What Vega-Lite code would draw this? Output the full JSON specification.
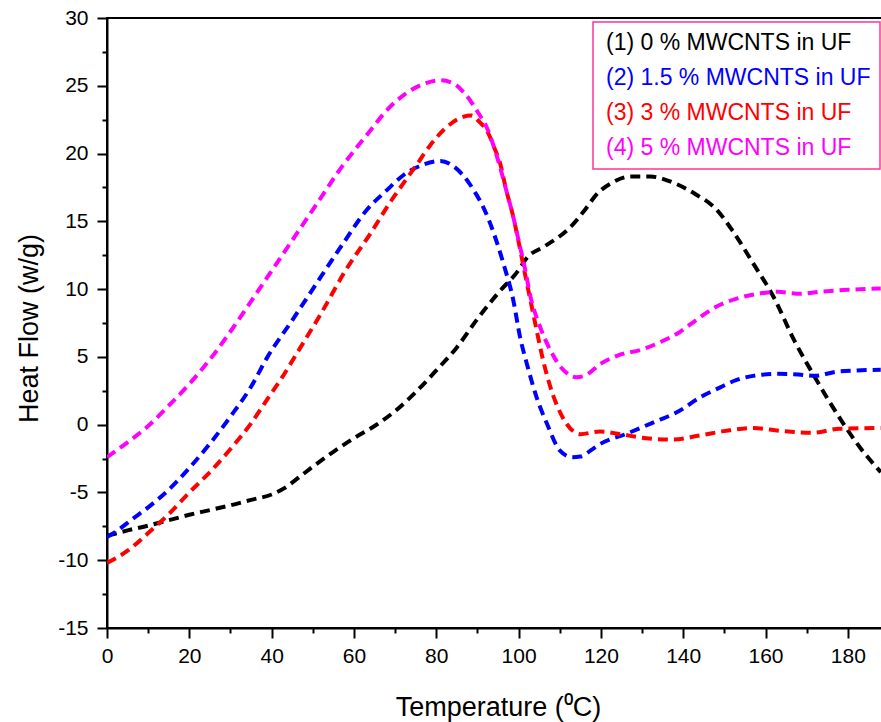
{
  "$schema": "https://vega.github.io/schema/vega-lite/v6.json",
  "autosize": {"type": "none"},
  "padding": {"left": 107, "top": 18, "right": 0, "bottom": 94},
  "width": 782,
  "height": 610,
  "config": {
    "view": {"stroke": "black", "strokeWidth": 2},
    "font": "Liberation Sans",
    "legend": {"strokeWidth": 1.5},
    "axis": {"grid": false, "domainColor": "black", "domainWidth": 2, "tickColor": "black", "tickWidth": 2, "labelColor": "black", "titleColor": "black", "labelFontSize": 21, "titleFontSize": 27, "titleFontWeight": "normal", "labelFont": "Liberation Sans", "titleFont": "Liberation Sans"}
  },
  "data": {"values": [
    {"s": "(1) 0 % MWCNTS in UF", "t": 0, "h": -8.2},
    {"s": "(1) 0 % MWCNTS in UF", "t": 5, "h": -7.8},
    {"s": "(1) 0 % MWCNTS in UF", "t": 10, "h": -7.45},
    {"s": "(1) 0 % MWCNTS in UF", "t": 15, "h": -7.05},
    {"s": "(1) 0 % MWCNTS in UF", "t": 20, "h": -6.65},
    {"s": "(1) 0 % MWCNTS in UF", "t": 25, "h": -6.3},
    {"s": "(1) 0 % MWCNTS in UF", "t": 30, "h": -5.95},
    {"s": "(1) 0 % MWCNTS in UF", "t": 35, "h": -5.55},
    {"s": "(1) 0 % MWCNTS in UF", "t": 40, "h": -5.15},
    {"s": "(1) 0 % MWCNTS in UF", "t": 43, "h": -4.7},
    {"s": "(1) 0 % MWCNTS in UF", "t": 47, "h": -3.8},
    {"s": "(1) 0 % MWCNTS in UF", "t": 50, "h": -3.1},
    {"s": "(1) 0 % MWCNTS in UF", "t": 55, "h": -2.0},
    {"s": "(1) 0 % MWCNTS in UF", "t": 60, "h": -1.0},
    {"s": "(1) 0 % MWCNTS in UF", "t": 65, "h": -0.1},
    {"s": "(1) 0 % MWCNTS in UF", "t": 70, "h": 1.0},
    {"s": "(1) 0 % MWCNTS in UF", "t": 75, "h": 2.4},
    {"s": "(1) 0 % MWCNTS in UF", "t": 80, "h": 4.0},
    {"s": "(1) 0 % MWCNTS in UF", "t": 85, "h": 5.7},
    {"s": "(1) 0 % MWCNTS in UF", "t": 90, "h": 7.8},
    {"s": "(1) 0 % MWCNTS in UF", "t": 95, "h": 9.7},
    {"s": "(1) 0 % MWCNTS in UF", "t": 100, "h": 11.4},
    {"s": "(1) 0 % MWCNTS in UF", "t": 102, "h": 12.3},
    {"s": "(1) 0 % MWCNTS in UF", "t": 106, "h": 13.1},
    {"s": "(1) 0 % MWCNTS in UF", "t": 110, "h": 13.9},
    {"s": "(1) 0 % MWCNTS in UF", "t": 113, "h": 14.7},
    {"s": "(1) 0 % MWCNTS in UF", "t": 116, "h": 15.8},
    {"s": "(1) 0 % MWCNTS in UF", "t": 119, "h": 17.0},
    {"s": "(1) 0 % MWCNTS in UF", "t": 123, "h": 17.9},
    {"s": "(1) 0 % MWCNTS in UF", "t": 127, "h": 18.3},
    {"s": "(1) 0 % MWCNTS in UF", "t": 132, "h": 18.3},
    {"s": "(1) 0 % MWCNTS in UF", "t": 138, "h": 17.8},
    {"s": "(1) 0 % MWCNTS in UF", "t": 143, "h": 17.0},
    {"s": "(1) 0 % MWCNTS in UF", "t": 148, "h": 15.9},
    {"s": "(1) 0 % MWCNTS in UF", "t": 152, "h": 14.3},
    {"s": "(1) 0 % MWCNTS in UF", "t": 157, "h": 11.9},
    {"s": "(1) 0 % MWCNTS in UF", "t": 162, "h": 9.4},
    {"s": "(1) 0 % MWCNTS in UF", "t": 167, "h": 6.2},
    {"s": "(1) 0 % MWCNTS in UF", "t": 172, "h": 3.5},
    {"s": "(1) 0 % MWCNTS in UF", "t": 178, "h": 0.5},
    {"s": "(1) 0 % MWCNTS in UF", "t": 183, "h": -1.7},
    {"s": "(1) 0 % MWCNTS in UF", "t": 188, "h": -3.5},

    {"s": "(2) 1.5 % MWCNTS in UF", "t": 0, "h": -8.3},
    {"s": "(2) 1.5 % MWCNTS in UF", "t": 3, "h": -7.7},
    {"s": "(2) 1.5 % MWCNTS in UF", "t": 6, "h": -7.0},
    {"s": "(2) 1.5 % MWCNTS in UF", "t": 10, "h": -6.1},
    {"s": "(2) 1.5 % MWCNTS in UF", "t": 15, "h": -4.8},
    {"s": "(2) 1.5 % MWCNTS in UF", "t": 20, "h": -3.2},
    {"s": "(2) 1.5 % MWCNTS in UF", "t": 25, "h": -1.4},
    {"s": "(2) 1.5 % MWCNTS in UF", "t": 30, "h": 0.6},
    {"s": "(2) 1.5 % MWCNTS in UF", "t": 35, "h": 2.8},
    {"s": "(2) 1.5 % MWCNTS in UF", "t": 39, "h": 5.0},
    {"s": "(2) 1.5 % MWCNTS in UF", "t": 45, "h": 7.7},
    {"s": "(2) 1.5 % MWCNTS in UF", "t": 50, "h": 10.0},
    {"s": "(2) 1.5 % MWCNTS in UF", "t": 57, "h": 13.2},
    {"s": "(2) 1.5 % MWCNTS in UF", "t": 63, "h": 15.8},
    {"s": "(2) 1.5 % MWCNTS in UF", "t": 68, "h": 17.3},
    {"s": "(2) 1.5 % MWCNTS in UF", "t": 72, "h": 18.4},
    {"s": "(2) 1.5 % MWCNTS in UF", "t": 77, "h": 19.2},
    {"s": "(2) 1.5 % MWCNTS in UF", "t": 81, "h": 19.45},
    {"s": "(2) 1.5 % MWCNTS in UF", "t": 84, "h": 19.1},
    {"s": "(2) 1.5 % MWCNTS in UF", "t": 86.5, "h": 18.4},
    {"s": "(2) 1.5 % MWCNTS in UF", "t": 89.5, "h": 17.1},
    {"s": "(2) 1.5 % MWCNTS in UF", "t": 91.5, "h": 16.0},
    {"s": "(2) 1.5 % MWCNTS in UF", "t": 94, "h": 14.1},
    {"s": "(2) 1.5 % MWCNTS in UF", "t": 96.3, "h": 11.9},
    {"s": "(2) 1.5 % MWCNTS in UF", "t": 98.7, "h": 9.2},
    {"s": "(2) 1.5 % MWCNTS in UF", "t": 100.4, "h": 6.4},
    {"s": "(2) 1.5 % MWCNTS in UF", "t": 102, "h": 4.5},
    {"s": "(2) 1.5 % MWCNTS in UF", "t": 104.4, "h": 2.0},
    {"s": "(2) 1.5 % MWCNTS in UF", "t": 107, "h": 0.0},
    {"s": "(2) 1.5 % MWCNTS in UF", "t": 110, "h": -1.9},
    {"s": "(2) 1.5 % MWCNTS in UF", "t": 113, "h": -2.4},
    {"s": "(2) 1.5 % MWCNTS in UF", "t": 115, "h": -2.35},
    {"s": "(2) 1.5 % MWCNTS in UF", "t": 118, "h": -1.8},
    {"s": "(2) 1.5 % MWCNTS in UF", "t": 120, "h": -1.4},
    {"s": "(2) 1.5 % MWCNTS in UF", "t": 126, "h": -0.7},
    {"s": "(2) 1.5 % MWCNTS in UF", "t": 133, "h": 0.2},
    {"s": "(2) 1.5 % MWCNTS in UF", "t": 139, "h": 1.0},
    {"s": "(2) 1.5 % MWCNTS in UF", "t": 144, "h": 2.0},
    {"s": "(2) 1.5 % MWCNTS in UF", "t": 149, "h": 2.75},
    {"s": "(2) 1.5 % MWCNTS in UF", "t": 153, "h": 3.3},
    {"s": "(2) 1.5 % MWCNTS in UF", "t": 157, "h": 3.6},
    {"s": "(2) 1.5 % MWCNTS in UF", "t": 163, "h": 3.75},
    {"s": "(2) 1.5 % MWCNTS in UF", "t": 168, "h": 3.7},
    {"s": "(2) 1.5 % MWCNTS in UF", "t": 172, "h": 3.6},
    {"s": "(2) 1.5 % MWCNTS in UF", "t": 177, "h": 3.9},
    {"s": "(2) 1.5 % MWCNTS in UF", "t": 182, "h": 4.0},
    {"s": "(2) 1.5 % MWCNTS in UF", "t": 188, "h": 4.05},

    {"s": "(3) 3 % MWCNTS in UF", "t": 0, "h": -10.2},
    {"s": "(3) 3 % MWCNTS in UF", "t": 5, "h": -9.3},
    {"s": "(3) 3 % MWCNTS in UF", "t": 10, "h": -8.0},
    {"s": "(3) 3 % MWCNTS in UF", "t": 15, "h": -6.6},
    {"s": "(3) 3 % MWCNTS in UF", "t": 20, "h": -5.0},
    {"s": "(3) 3 % MWCNTS in UF", "t": 25, "h": -3.5},
    {"s": "(3) 3 % MWCNTS in UF", "t": 30, "h": -1.8},
    {"s": "(3) 3 % MWCNTS in UF", "t": 35, "h": 0.1},
    {"s": "(3) 3 % MWCNTS in UF", "t": 39, "h": 1.9},
    {"s": "(3) 3 % MWCNTS in UF", "t": 43, "h": 3.7},
    {"s": "(3) 3 % MWCNTS in UF", "t": 46, "h": 5.2},
    {"s": "(3) 3 % MWCNTS in UF", "t": 52, "h": 8.2},
    {"s": "(3) 3 % MWCNTS in UF", "t": 58, "h": 11.4},
    {"s": "(3) 3 % MWCNTS in UF", "t": 64, "h": 14.1},
    {"s": "(3) 3 % MWCNTS in UF", "t": 69, "h": 16.5},
    {"s": "(3) 3 % MWCNTS in UF", "t": 72, "h": 17.8},
    {"s": "(3) 3 % MWCNTS in UF", "t": 75.3, "h": 19.2},
    {"s": "(3) 3 % MWCNTS in UF", "t": 78.5, "h": 20.6},
    {"s": "(3) 3 % MWCNTS in UF", "t": 82, "h": 21.8},
    {"s": "(3) 3 % MWCNTS in UF", "t": 86.5, "h": 22.7},
    {"s": "(3) 3 % MWCNTS in UF", "t": 88.5, "h": 22.8},
    {"s": "(3) 3 % MWCNTS in UF", "t": 90.6, "h": 22.3},
    {"s": "(3) 3 % MWCNTS in UF", "t": 92.3, "h": 21.7},
    {"s": "(3) 3 % MWCNTS in UF", "t": 94, "h": 20.5},
    {"s": "(3) 3 % MWCNTS in UF", "t": 95.5, "h": 19.3},
    {"s": "(3) 3 % MWCNTS in UF", "t": 97, "h": 17.3},
    {"s": "(3) 3 % MWCNTS in UF", "t": 98.5, "h": 15.6},
    {"s": "(3) 3 % MWCNTS in UF", "t": 100, "h": 13.5},
    {"s": "(3) 3 % MWCNTS in UF", "t": 101.5, "h": 11.2},
    {"s": "(3) 3 % MWCNTS in UF", "t": 103, "h": 9.0},
    {"s": "(3) 3 % MWCNTS in UF", "t": 104.5, "h": 6.8},
    {"s": "(3) 3 % MWCNTS in UF", "t": 106, "h": 4.7},
    {"s": "(3) 3 % MWCNTS in UF", "t": 107.5, "h": 3.0},
    {"s": "(3) 3 % MWCNTS in UF", "t": 109.5, "h": 1.3},
    {"s": "(3) 3 % MWCNTS in UF", "t": 111.7, "h": 0.05},
    {"s": "(3) 3 % MWCNTS in UF", "t": 115, "h": -0.7},
    {"s": "(3) 3 % MWCNTS in UF", "t": 119.8, "h": -0.5},
    {"s": "(3) 3 % MWCNTS in UF", "t": 124.7, "h": -0.7},
    {"s": "(3) 3 % MWCNTS in UF", "t": 131, "h": -1.0},
    {"s": "(3) 3 % MWCNTS in UF", "t": 137.5, "h": -1.1},
    {"s": "(3) 3 % MWCNTS in UF", "t": 144, "h": -0.8},
    {"s": "(3) 3 % MWCNTS in UF", "t": 150.5, "h": -0.45},
    {"s": "(3) 3 % MWCNTS in UF", "t": 157, "h": -0.25},
    {"s": "(3) 3 % MWCNTS in UF", "t": 163.5, "h": -0.45},
    {"s": "(3) 3 % MWCNTS in UF", "t": 171.5, "h": -0.6},
    {"s": "(3) 3 % MWCNTS in UF", "t": 178, "h": -0.3},
    {"s": "(3) 3 % MWCNTS in UF", "t": 188, "h": -0.25},

    {"s": "(4) 5 % MWCNTS in UF", "t": 0, "h": -2.4},
    {"s": "(4) 5 % MWCNTS in UF", "t": 5, "h": -1.3},
    {"s": "(4) 5 % MWCNTS in UF", "t": 10, "h": -0.1},
    {"s": "(4) 5 % MWCNTS in UF", "t": 15, "h": 1.4},
    {"s": "(4) 5 % MWCNTS in UF", "t": 20, "h": 3.0},
    {"s": "(4) 5 % MWCNTS in UF", "t": 26, "h": 5.2},
    {"s": "(4) 5 % MWCNTS in UF", "t": 33, "h": 8.2},
    {"s": "(4) 5 % MWCNTS in UF", "t": 39, "h": 10.9},
    {"s": "(4) 5 % MWCNTS in UF", "t": 45, "h": 13.6},
    {"s": "(4) 5 % MWCNTS in UF", "t": 51, "h": 16.3},
    {"s": "(4) 5 % MWCNTS in UF", "t": 57, "h": 19.0},
    {"s": "(4) 5 % MWCNTS in UF", "t": 64, "h": 21.7},
    {"s": "(4) 5 % MWCNTS in UF", "t": 68, "h": 23.2},
    {"s": "(4) 5 % MWCNTS in UF", "t": 72.5, "h": 24.4},
    {"s": "(4) 5 % MWCNTS in UF", "t": 77.5, "h": 25.2},
    {"s": "(4) 5 % MWCNTS in UF", "t": 81, "h": 25.4},
    {"s": "(4) 5 % MWCNTS in UF", "t": 84, "h": 25.2},
    {"s": "(4) 5 % MWCNTS in UF", "t": 87, "h": 24.4},
    {"s": "(4) 5 % MWCNTS in UF", "t": 90, "h": 23.1},
    {"s": "(4) 5 % MWCNTS in UF", "t": 92.3, "h": 21.9},
    {"s": "(4) 5 % MWCNTS in UF", "t": 94, "h": 20.5},
    {"s": "(4) 5 % MWCNTS in UF", "t": 95.5, "h": 19.0},
    {"s": "(4) 5 % MWCNTS in UF", "t": 97, "h": 17.3},
    {"s": "(4) 5 % MWCNTS in UF", "t": 98.5, "h": 15.6},
    {"s": "(4) 5 % MWCNTS in UF", "t": 100, "h": 13.6},
    {"s": "(4) 5 % MWCNTS in UF", "t": 101.5, "h": 11.6},
    {"s": "(4) 5 % MWCNTS in UF", "t": 103, "h": 9.3},
    {"s": "(4) 5 % MWCNTS in UF", "t": 105, "h": 7.4},
    {"s": "(4) 5 % MWCNTS in UF", "t": 107.7, "h": 5.5},
    {"s": "(4) 5 % MWCNTS in UF", "t": 111, "h": 4.0},
    {"s": "(4) 5 % MWCNTS in UF", "t": 114, "h": 3.5},
    {"s": "(4) 5 % MWCNTS in UF", "t": 116, "h": 3.6},
    {"s": "(4) 5 % MWCNTS in UF", "t": 120, "h": 4.5},
    {"s": "(4) 5 % MWCNTS in UF", "t": 125, "h": 5.2},
    {"s": "(4) 5 % MWCNTS in UF", "t": 129.5, "h": 5.5},
    {"s": "(4) 5 % MWCNTS in UF", "t": 134.5, "h": 6.1},
    {"s": "(4) 5 % MWCNTS in UF", "t": 139, "h": 6.8},
    {"s": "(4) 5 % MWCNTS in UF", "t": 143.5, "h": 7.8},
    {"s": "(4) 5 % MWCNTS in UF", "t": 148, "h": 8.7},
    {"s": "(4) 5 % MWCNTS in UF", "t": 153, "h": 9.3},
    {"s": "(4) 5 % MWCNTS in UF", "t": 158, "h": 9.65},
    {"s": "(4) 5 % MWCNTS in UF", "t": 163, "h": 9.8},
    {"s": "(4) 5 % MWCNTS in UF", "t": 168.5, "h": 9.65},
    {"s": "(4) 5 % MWCNTS in UF", "t": 173, "h": 9.8},
    {"s": "(4) 5 % MWCNTS in UF", "t": 180, "h": 9.95},
    {"s": "(4) 5 % MWCNTS in UF", "t": 188, "h": 10.05}
  ]},
  "mark": {"type": "line", "interpolate": "monotone", "strokeWidth": 4, "strokeDash": [10, 6], "clip": true},
  "encoding": {
    "x": {
      "field": "t", "type": "quantitative",
      "scale": {"domain": [0, 190], "nice": false, "zero": false},
      "axis": {
        "title": "Temperature (⁰C)",
        "values": [0, 10, 20, 30, 40, 50, 60, 70, 80, 90, 100, 110, 120, 130, 140, 150, 160, 170, 180, 190],
        "tickSize": {"condition": {"test": "datum.value % 20 !== 0", "value": 5}, "value": 10},
        "labelExpr": "datum.value % 20 === 0 ? datum.label : ''",
        "labelOverlap": false,
        "labelFlush": false,
        "labelPadding": 7,
        "titlePadding": 28
      }
    },
    "y": {
      "field": "h", "type": "quantitative",
      "scale": {"domain": [-15, 30], "nice": false, "zero": false},
      "axis": {
        "title": "Heat Flow (w/g)",
        "titleY": 310,
        "values": [-15, -12.5, -10, -7.5, -5, -2.5, 0, 2.5, 5, 7.5, 10, 12.5, 15, 17.5, 20, 22.5, 25, 27.5, 30],
        "tickSize": {"condition": {"test": "datum.value % 5 !== 0", "value": 5}, "value": 10},
        "labelExpr": "datum.value % 5 === 0 ? replace(datum.label, '−', '-') : ''",
        "labelOverlap": false,
        "labelFlush": false,
        "labelPadding": 9,
        "titlePadding": 14
      }
    },
    "color": {
      "field": "s", "type": "nominal",
      "scale": {
        "domain": ["(1) 0 % MWCNTS in UF", "(2) 1.5 % MWCNTS in UF", "(3) 3 % MWCNTS in UF", "(4) 5 % MWCNTS in UF"],
        "range": ["#000000", "#0000ff", "#ff0000", "#ff00ff"]
      },
      "legend": {
        "title": null,
        "orient": "none",
        "legendX": 486,
        "legendY": 4,
        "padding": 9,
        "strokeColor": "#ff3399",
        "fillColor": "white",
        "symbolSize": 0,
        "symbolOpacity": 0,
        "symbolStrokeWidth": 0,
        "labelOffset": -19,
        "labelFontSize": 23,
        "labelFont": "Liberation Sans",
        "labelLimit": 400,
        "rowPadding": 11,
        "encode": {"labels": {"update": {"fill": {"scale": "color", "field": "value"}}}}
      }
    }
  }
}
